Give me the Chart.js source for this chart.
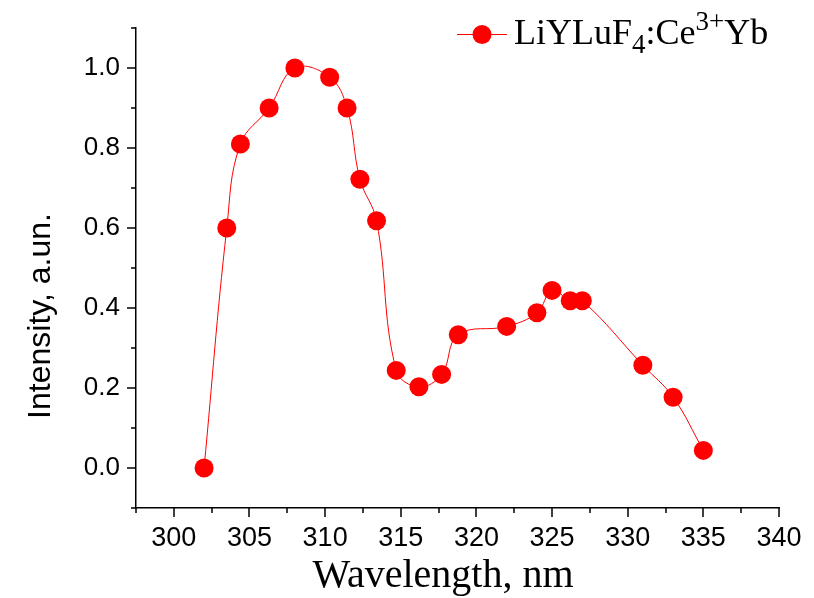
<!DOCTYPE html>
<html>
<head>
<meta charset="UTF-8">
<title>LiYLuF4:Ce3+Yb</title>
<script src="https://cdn.jsdelivr.net/npm/chart.js@4.4.0/dist/chart.umd.min.js"></script>
<style>
  html, body { margin: 0; padding: 0; background: #fff; }
</style>
</head>
<body>
<canvas id="chart" width="814" height="598"></canvas>
<script>
// data
const wavelength = [302.0, 303.5, 304.4, 306.3, 308.0, 310.3, 311.45, 312.3, 313.4, 314.7, 316.2,
                    317.7, 318.8, 322.0, 324.0, 325.0, 326.2, 327.0, 331.0, 333.0, 335.0];
const intensity  = [0.0, 0.60, 0.81, 0.90, 1.0, 0.977, 0.90, 0.722, 0.618, 0.244, 0.203,
                    0.234, 0.333, 0.354, 0.388, 0.444, 0.418, 0.418, 0.257, 0.177, 0.044];

const xMajor = [300, 305, 310, 315, 320, 325, 330, 335, 340];
const xMinor = [297.5, 302.5, 307.5, 312.5, 317.5, 322.5, 327.5, 332.5, 337.5];
const yMajor = [0.0, 0.2, 0.4, 0.6, 0.8, 1.0];
const yMinor = [-0.1, 0.1, 0.3, 0.5, 0.7, 0.9, 1.1];

const seriesName = ['LiYLuF', '4', ':Ce', '3+', 'Yb']; // normal, sub, normal, sup, normal
const xTitle = 'Wavelength, nm';
const yTitle = 'Intensity, a.un.';

const RED = '#ff0000';
const SANS = '"Liberation Sans", Arial, sans-serif';
const SERIF = '"Liberation Serif", "Times New Roman", serif';

// tick marks (major long, minor short), axis titles and the legend
const decorations = {
    id: 'decorations',
    afterDraw(chart) {
        const ctx = chart.ctx;
        const xs = chart.scales.x, ys = chart.scales.y;
        const area = chart.chartArea;
        ctx.save();
        ctx.strokeStyle = '#000';
        ctx.lineWidth = 1.5;
        ctx.beginPath();
        xMajor.forEach(v => { const p = Math.round(xs.getPixelForValue(v)); ctx.moveTo(p, area.bottom); ctx.lineTo(p, area.bottom + 9); });
        xMinor.forEach(v => { const p = Math.round(xs.getPixelForValue(v)); ctx.moveTo(p, area.bottom); ctx.lineTo(p, area.bottom + 5); });
        yMajor.forEach(v => { const p = Math.round(ys.getPixelForValue(v)); ctx.moveTo(area.left, p); ctx.lineTo(area.left - 9, p); });
        yMinor.forEach(v => { const p = Math.round(ys.getPixelForValue(v)); ctx.moveTo(area.left, p); ctx.lineTo(area.left - 5, p); });
        ctx.stroke();

        // axis titles
        ctx.fillStyle = '#000';
        ctx.font = '40px ' + SERIF;
        ctx.textAlign = 'center';
        ctx.textBaseline = 'alphabetic';
        ctx.fillText(xTitle, 443, 587);

        ctx.save();
        ctx.translate(50, 316);
        ctx.rotate(-Math.PI / 2);
        ctx.font = '32px ' + SANS;
        ctx.fillText(yTitle, 0, 0);
        ctx.restore();

        // legend
        const ly = 34.5;
        ctx.strokeStyle = RED;
        ctx.lineWidth = 1;
        ctx.beginPath();
        ctx.moveTo(457, ly); ctx.lineTo(507, ly);
        ctx.stroke();
        ctx.fillStyle = RED;
        ctx.beginPath();
        ctx.arc(482, ly, 9.5, 0, Math.PI * 2);
        ctx.fill();

        ctx.fillStyle = '#000';
        ctx.textAlign = 'left';
        let tx = 514;
        const base = 44;
        const parts = [
            { t: seriesName[0], size: 36, dy: 0 },
            { t: seriesName[1], size: 27, dy: 9 },
            { t: seriesName[2], size: 36, dy: 0 },
            { t: seriesName[3], size: 27, dy: -14 },
            { t: seriesName[4], size: 36, dy: 0 }
        ];
        parts.forEach(p => {
            ctx.font = p.size + 'px ' + SERIF;
            ctx.fillText(p.t, tx, base + p.dy);
            tx += ctx.measureText(p.t).width;
        });
        ctx.restore();
    }
};

new Chart(document.getElementById('chart').getContext('2d'), {
    type: 'line',
    data: {
        datasets: [{
            label: 'LiYLuF4:Ce3+Yb',
            data: wavelength.map((w, i) => ({ x: w, y: intensity[i] })),
            borderColor: RED,
            borderWidth: 1,
            backgroundColor: RED,
            pointBackgroundColor: RED,
            pointBorderWidth: 0,
            pointRadius: 9.5,
            tension: 0.4,
            fill: false
        }]
    },
    options: {
        responsive: false,
        animation: false,
        layout: { padding: { top: 28, right: 35, left: 0, bottom: 0 } },
        plugins: {
            legend: { display: false },
            tooltip: { enabled: false }
        },
        scales: {
            x: {
                type: 'linear',
                min: 297.5,
                max: 340,
                afterBuildTicks: s => { s.ticks = xMajor.map(v => ({ value: v })); },
                afterFit: s => { s.height = 90; },
                grid: { drawOnChartArea: false, color: 'rgba(0,0,0,0)', tickLength: 9 },
                border: { display: true, color: '#000', width: 1.5 },
                ticks: {
                    color: '#000',
                    font: { family: SANS, size: 27 },
                    padding: 5,
                    maxRotation: 0,
                    callback: v => String(v)
                }
            },
            y: {
                type: 'linear',
                min: -0.1,
                max: 1.1,
                afterBuildTicks: s => { s.ticks = yMajor.map(v => ({ value: v })); },
                afterFit: s => { s.width = 136; },
                grid: { drawOnChartArea: false, color: 'rgba(0,0,0,0)', tickLength: 9 },
                border: { display: true, color: '#000', width: 1.5 },
                ticks: {
                    color: '#000',
                    font: { family: SANS, size: 26 },
                    padding: 7,
                    callback: v => Number(v).toFixed(1)
                }
            }
        }
    },
    plugins: [decorations]
});
</script>
</body>
</html>
